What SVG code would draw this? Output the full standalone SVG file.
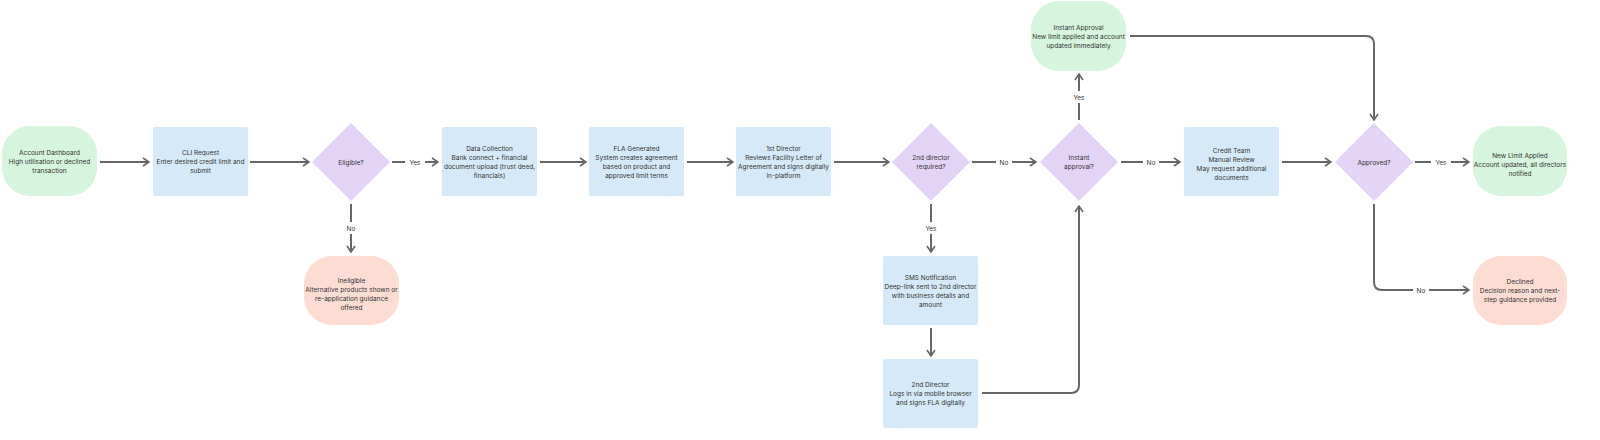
<svg xmlns="http://www.w3.org/2000/svg" width="1600" height="440" viewBox="0 0 1600 440">
<style>
text{font-family:Inter,"Liberation Sans",sans-serif;font-size:6.5px;fill:#333;text-anchor:middle}
.g{fill:#d6f4de}.b{fill:#d6e9f8}.p{fill:#e3d4f6}.r{fill:#fddcd3}
.c path{fill:none;stroke:#666;stroke-width:2;marker-end:url(#a)}
.l{fill:#fff}
</style>
<defs><marker id="a" viewBox="0 0 10 10" refX="9" refY="5" markerWidth="10" markerHeight="10" orient="auto" markerUnits="userSpaceOnUse"><path d="M3,1 L9,5 L3,9" fill="none" stroke="#666" stroke-width="1.6"/></marker></defs>
<rect width="1600" height="440" fill="#fff"/>
<g class="c">
<path d="M100,162H149"/>
<path d="M250,162H309"/>
<path d="M392,162H438"/>
<path d="M351,204V252"/>
<path d="M540,162H586"/>
<path d="M687,162H733"/>
<path d="M834,162H889"/>
<path d="M972,162H1036"/>
<path d="M931,204V252"/>
<path d="M931,328V356"/>
<path d="M982,393H1071Q1079,393 1079,385V206"/>
<path d="M1079,120V74"/>
<path d="M1121,162H1180"/>
<path d="M1282,162H1331"/>
<path d="M1130,36H1366Q1374,36 1374,44V120"/>
<path d="M1415,162H1469"/>
<path d="M1374,204V282Q1374,290 1382,290H1469"/>
<g>
<rect class="l" x="405" y="156" width="20" height="12"/><text x="415" y="164.5">Yes</text>
<rect class="l" x="343" y="222" width="16" height="12"/><text x="351" y="230.5">No</text>
<rect class="l" x="996" y="156" width="16" height="12"/><text x="1004" y="164.5">No</text>
<rect class="l" x="921" y="222" width="20" height="12"/><text x="931" y="230.5">Yes</text>
<rect class="l" x="1069" y="91" width="20" height="12"/><text x="1079" y="99.5">Yes</text>
<rect class="l" x="1143" y="156" width="16" height="12"/><text x="1151" y="164.5">No</text>
<rect class="l" x="1431" y="156" width="20" height="12"/><text x="1441" y="164.5">Yes</text>
<rect class="l" x="1413" y="284" width="16" height="12"/><text x="1421" y="292.5">No</text>
</g>
</g>
<g id="n1"><rect class="g" x="2" y="126" width="95" height="70" rx="28"/><text x="49.5" y="155">Account Dashboard</text><text x="49.5" y="164">High utilisation or declined</text><text x="49.5" y="173">transaction</text></g>
<g id="n2"><rect class="b" x="153" y="127" width="95" height="69" rx="2"/><text x="200.5" y="155">CLI Request</text><text x="200.5" y="164">Enter desired credit limit and</text><text x="200.5" y="173">submit</text></g>
<g id="n3"><path class="p" d="M351,123L390,162L351,201L312,162Z"/><text x="351" y="164.5">Eligible?</text></g>
<g id="n4"><rect class="r" x="304" y="256" width="95" height="69" rx="28"/><text x="351.5" y="283">Ineligible</text><text x="351.5" y="292">Alternative products shown or</text><text x="351.5" y="301">re-application guidance</text><text x="351.5" y="310">offered</text></g>
<g id="n5"><rect class="b" x="442" y="127" width="95" height="69" rx="2"/><text x="489.5" y="151">Data Collection</text><text x="489.5" y="160">Bank connect + financial</text><text x="489.5" y="169">document upload (trust deed,</text><text x="489.5" y="178">financials)</text></g>
<g id="n6"><rect class="b" x="589" y="127" width="95" height="69" rx="2"/><text x="636.5" y="151">FLA Generated</text><text x="636.5" y="160">System creates agreement</text><text x="636.5" y="169">based on product and</text><text x="636.5" y="178">approved limit terms</text></g>
<g id="n7"><rect class="b" x="736" y="127" width="95" height="69" rx="2"/><text x="783.5" y="151">1st Director</text><text x="783.5" y="160">Reviews Facility Letter of</text><text x="783.5" y="169">Agreement and signs digitally</text><text x="783.5" y="178">in-platform</text></g>
<g id="n8"><path class="p" d="M931,123L970,162L931,201L892,162Z"/><text x="931" y="160">2nd director</text><text x="931" y="169">required?</text></g>
<g id="n9"><rect class="b" x="883" y="256" width="95" height="69" rx="2"/><text x="930.5" y="280">SMS Notification</text><text x="930.5" y="289">Deep-link sent to 2nd director</text><text x="930.5" y="298">with business details and</text><text x="930.5" y="307">amount</text></g>
<g id="n10"><rect class="b" x="883" y="359" width="95" height="69" rx="2"/><text x="930.5" y="387">2nd Director</text><text x="930.5" y="396">Logs in via mobile browser</text><text x="930.5" y="405">and signs FLA digitally</text></g>
<g id="n11"><path class="p" d="M1079,123L1118,162L1079,201L1040,162Z"/><text x="1079" y="160">Instant</text><text x="1079" y="169">approval?</text></g>
<g id="n12"><rect class="g" x="1031" y="1" width="95" height="70" rx="28"/><text x="1078.5" y="30">Instant Approval</text><text x="1078.5" y="39">New limit applied and account</text><text x="1078.5" y="48">updated immediately</text></g>
<g id="n13"><rect class="b" x="1184" y="127" width="95" height="69" rx="2"/><text x="1231.5" y="153">Credit Team</text><text x="1231.5" y="162">Manual Review</text><text x="1231.5" y="171">May request additional</text><text x="1231.5" y="180">documents</text></g>
<g id="n14"><path class="p" d="M1374,123L1413,162L1374,201L1335,162Z"/><text x="1374" y="164.5">Approved?</text></g>
<g id="n15"><rect class="g" x="1473" y="126" width="94" height="70" rx="28"/><text x="1520" y="158">New Limit Applied</text><text x="1520" y="167">Account updated, all directors</text><text x="1520" y="176">notified</text></g>
<g id="n16"><rect class="r" x="1473" y="256" width="94" height="69" rx="28"/><text x="1520" y="284">Declined</text><text x="1520" y="293">Decision reason and next-</text><text x="1520" y="302">step guidance provided</text></g>
</svg>
